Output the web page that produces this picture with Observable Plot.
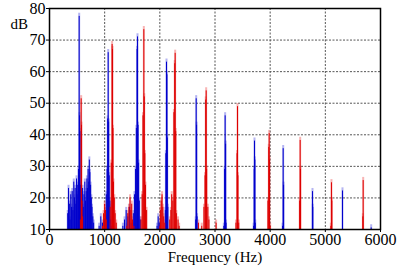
<!DOCTYPE html>
<html><head><meta charset="utf-8">
<script src="https://cdn.jsdelivr.net/npm/d3@7"></script>
<script src="https://cdn.jsdelivr.net/npm/@observablehq/plot@0.6"></script>
<style>body{margin:0;background:#fff;}</style>
</head><body><div id="chart"></div>
<script>
const xTicks = [0, 1000, 2000, 3000, 4000, 5000, 6000];
const yTicks = [10, 20, 30, 40, 50, 60, 70, 80];

const blueFreq = [330,345,360,372,385,400,412,425,440,452,465,478,490,500,512,525,538,545,552,560,572,585,600,612,625,640,652,665,678,690,700,712,722,732,745,758,770,785,800,
  900,930,960,1000,1030,1045,1055,1064,1072,1082,1095,1110,1130,
  1330,1360,1390,1420,1450,1480,1520,1540,1560,1575,1588,1595,1605,1615,1628,1645,
  1950,1970,1990,2100,2110,2121,2128,2135,2145,
  2650,2659,2666,2675,3160,3175,3184,3192,3200,3700,3712,3716,3722,3730,4225,4236,4243,4767,4772,5311,5831];
const blueDb = [16,24,19,14,22,18,23,17,26,21,24,19,27,22,25,30,78.5,47,42,25,22,19,24,18,22,26,20,23,27,24,30,26,33,29,25,21,18,15,13,
  12,15,13,14,22,30,46,67,45,28,20,14,12,
  12,14,17,15,18,13,16,22,30,43,68,72,44,32,20,14,
  12,15,13,17,35,64,60,40,18,
  14,52.4,44,15,12,30,47,38,13,12,30,39,33,13,12,36.6,25,23,18,23.2,11.5];

const redFreq = [560,574,580,590,600,
  960,980,1000,1015,1030,1100,1120,1135,1142,1150,1160,1175,1190,1210,
  1400,1420,1440,1460,1475,1490,1505,1530,1660,1680,1695,1710,1718,1728,1740,1760,
  2000,2010,2025,2040,2055,2070,2090,2180,2200,2215,2235,2255,2270,2278,2288,2300,2330,2350,
  2700,2760,2800,2820,2832,2840,2848,2870,2890,3020,3380,3400,3408,3415,3430,
  3960,3975,3982,3988,4000,4535,4544,4550,5100,5111,5118,5680,5686];
const redDb = [14,52.4,44,20,15,
  12,16,19,17,14,18,32,69.6,68,43,26,21,16,13,
  12,16,18,21,17,19,14,12,14,22,47,74.3,53,35,25,17,
  12,17,20,22,18,15,13,14,17,22,20,48,63.5,66.8,42,16,14,12,
  13,12,18,28,52,54.9,30,18,14,13,13,35,49.9,28,13,
  20,37,41.4,33,12,20,39.2,30,12,25.8,20,15,26.5];

const blue = blueFreq.map((f, i) => ({f, db: blueDb[i]}));
const red = redFreq.map((f, i) => ({f, db: redDb[i]}));

const font = "Liberation Serif";
const chart = Plot.plot({
  width: 397, height: 271,
  marginLeft: 49, marginRight: 17, marginTop: 8, marginBottom: 42,
  style: {fontFamily: font, fontSize: "15px", color: "#000", background: "#fff"},
  x: {domain: [0, 6000]},
  y: {domain: [10, 80]},
  marks: [
    Plot.gridX(xTicks.slice(1, -1), {stroke: "#555", strokeOpacity: 1, strokeDasharray: "2,1.5"}),
    Plot.gridY(yTicks.slice(1, -1), {stroke: "#555", strokeOpacity: 1, strokeDasharray: "2,1.5"}),
    Plot.ruleX(blue, {x: "f", y1: 10, y2: "db", stroke: "#4444dd", strokeOpacity: 0.4, strokeWidth: 2}),
    Plot.ruleX(red, {x: "f", y1: 10, y2: "db", stroke: "#ee4444", strokeOpacity: 0.4, strokeWidth: 2}),
    Plot.ruleX(blue, {x: "f", y1: 10, y2: d => d.db - 1, stroke: "#0000cc", strokeWidth: 1}),
    Plot.ruleX(red, {x: "f", y1: 10, y2: d => d.db - 1, stroke: "#dd0000", strokeWidth: 1}),
    Plot.frame({stroke: "#000", strokeWidth: 1.5}),
    Plot.axisX(xTicks, {tickSize: 3, tickPadding: 1, label: null, tickFormat: d => String(d), fontSize: 16, fontFamily: font}),
    Plot.axisY(yTicks, {tickSize: 3, tickPadding: 1, label: null, tickFormat: d => String(d), fontSize: 16, fontFamily: font}),
    Plot.text(["Frequency (Hz)"], {frameAnchor: "bottom", dy: 32, lineAnchor: "bottom", fontSize: 15, fontFamily: font}),
    Plot.text(["dB"], {frameAnchor: "top-left", dx: -39, dy: 20, lineAnchor: "bottom", fontSize: 15, fontFamily: font})
  ]
});
document.getElementById("chart").appendChild(chart);
</script></body></html>
